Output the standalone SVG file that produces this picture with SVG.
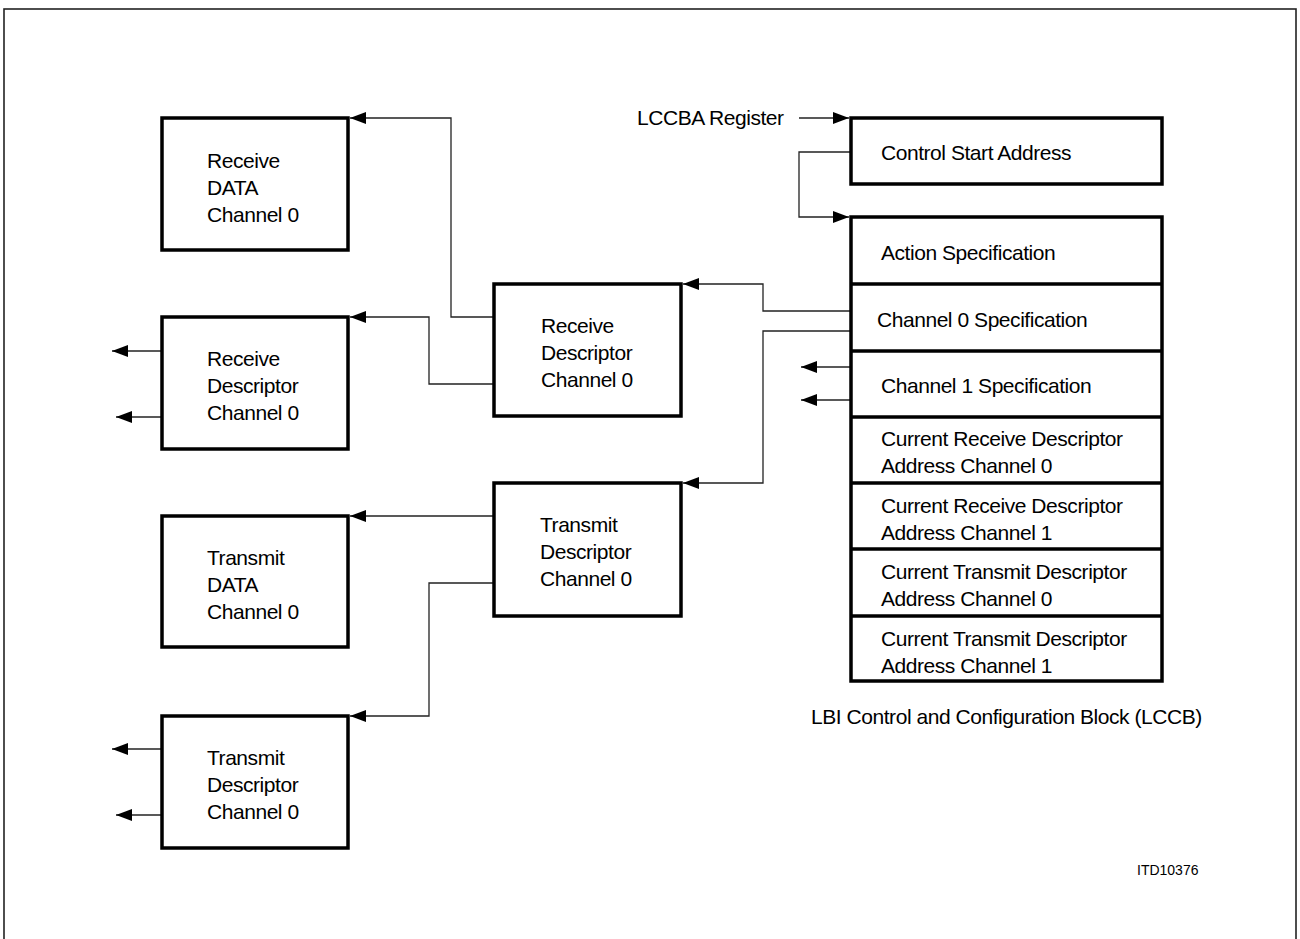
<svg xmlns="http://www.w3.org/2000/svg" width="1300" height="939" viewBox="0 0 1300 939">
<style>
.box{fill:#fff;stroke:#000;stroke-width:3.5}
.div{stroke:#000;stroke-width:3.5}
.frame{fill:none;stroke:#222;stroke-width:1.6}
.c{fill:none;stroke:#222;stroke-width:1.3}
.a{marker-end:url(#ah)}
text{font-family:"Liberation Sans",Arial,sans-serif;font-size:21px;fill:#000;letter-spacing:-0.45px}
.small{font-size:14px;letter-spacing:0}
</style>
<defs>
<marker id="ah" markerUnits="userSpaceOnUse" markerWidth="17" markerHeight="13" refX="16" refY="6" orient="auto">
<path d="M0,0 L16,6 L0,12 z" fill="#000"/>
</marker>
</defs>
<rect class="frame" x="4" y="9" width="1292" height="960"/>

<g id="connectors">
<polyline class="c a" points="799,118 849,118"/>
<polyline class="c a" points="851,152 799,152 799,217 849,217"/>
<polyline class="c a" points="851,311 763,311 763,284 683,284"/>
<polyline class="c a" points="851,331 763,331 763,483 683,483"/>
<polyline class="c a" points="851,367 801,367"/>
<polyline class="c a" points="851,400 801,400"/>
<polyline class="c a" points="494,317 451,317 451,118 350,118"/>
<polyline class="c a" points="494,384 429,384 429,317 350,317"/>
<polyline class="c a" points="494,516 350,516"/>
<polyline class="c a" points="494,583 429,583 429,716 350,716"/>
<polyline class="c a" points="162,351 112,351"/>
<polyline class="c a" points="162,417 116,417"/>
<polyline class="c a" points="162,749 112,749"/>
<polyline class="c a" points="162,815 116,815"/>
</g>

<g id="lccba-label">
<text x="637" y="125">LCCBA Register</text>
</g>

<g id="rx-data">
<rect class="box" x="162" y="118" width="186" height="132"/>
<text x="207" y="168">Receive</text>
<text x="207" y="195">DATA</text>
<text x="207" y="222">Channel 0</text>
</g>

<g id="rx-desc-left">
<rect class="box" x="162" y="317" width="186" height="132"/>
<text x="207" y="366">Receive</text>
<text x="207" y="393">Descriptor</text>
<text x="207" y="420">Channel 0</text>
</g>

<g id="tx-data">
<rect class="box" x="162" y="516" width="186" height="131"/>
<text x="207" y="565">Transmit</text>
<text x="207" y="592">DATA</text>
<text x="207" y="619">Channel 0</text>
</g>

<g id="tx-desc-left">
<rect class="box" x="162" y="716" width="186" height="132"/>
<text x="207" y="765">Transmit</text>
<text x="207" y="792">Descriptor</text>
<text x="207" y="819">Channel 0</text>
</g>

<g id="rx-desc-mid">
<rect class="box" x="494" y="284" width="187" height="132"/>
<text x="541" y="333">Receive</text>
<text x="541" y="360">Descriptor</text>
<text x="541" y="387">Channel 0</text>
</g>

<g id="tx-desc-mid">
<rect class="box" x="494" y="483" width="187" height="133"/>
<text x="540" y="532">Transmit</text>
<text x="540" y="559">Descriptor</text>
<text x="540" y="586">Channel 0</text>
</g>

<g id="control-start">
<rect class="box" x="851" y="118" width="311" height="66"/>
<text x="881" y="160">Control Start Address</text>
</g>

<g id="lccb">
<rect class="box" x="851" y="217" width="311" height="464"/>
<line class="div" x1="851" y1="284" x2="1162" y2="284"/>
<line class="div" x1="851" y1="351" x2="1162" y2="351"/>
<line class="div" x1="851" y1="417" x2="1162" y2="417"/>
<line class="div" x1="851" y1="483" x2="1162" y2="483"/>
<line class="div" x1="851" y1="549" x2="1162" y2="549"/>
<line class="div" x1="851" y1="616" x2="1162" y2="616"/>
<text x="881" y="260">Action Specification</text>
<text x="877" y="327">Channel 0 Specification</text>
<text x="881" y="393">Channel 1 Specification</text>
<text x="881" y="446">Current Receive Descriptor</text>
<text x="881" y="473">Address Channel 0</text>
<text x="881" y="513">Current Receive Descriptor</text>
<text x="881" y="540">Address Channel 1</text>
<text x="881" y="579">Current Transmit Descriptor</text>
<text x="881" y="606">Address Channel 0</text>
<text x="881" y="646">Current Transmit Descriptor</text>
<text x="881" y="673">Address Channel 1</text>
</g>

<g id="lccb-caption">
<text x="811" y="724">LBI Control and Configuration Block (LCCB)</text>
</g>
<g id="figure-id">
<text class="small" x="1137" y="875">ITD10376</text>
</g>
</svg>
